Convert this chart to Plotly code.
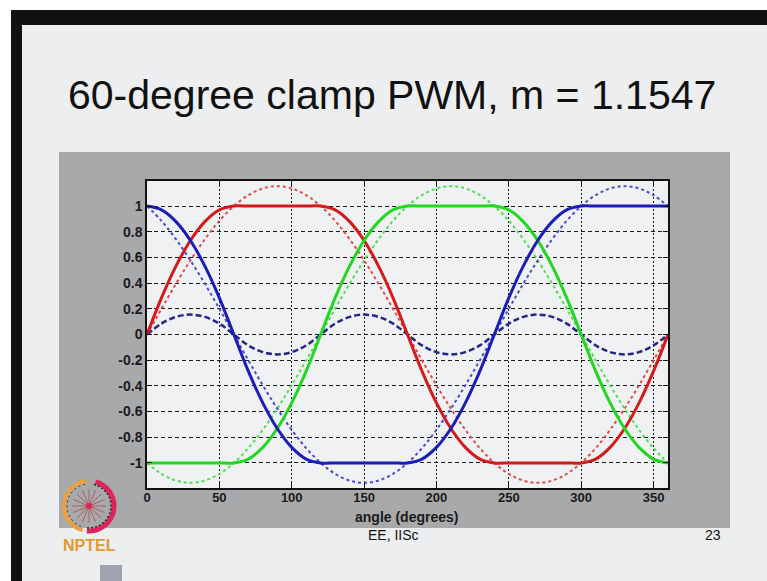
import math
import plotly.graph_objects as go

# ---------------- data ----------------
angle = [0, 10, 20, 30, 40, 50, 60, 70, 80, 90, 100, 110, 120, 130, 140, 150, 160, 170, 180,
         190, 200, 210, 220, 230, 240, 250, 260, 270, 280, 290, 300, 310, 320, 330, 340, 350, 360]

ref_a = [0, 0.200, 0.395, 0.577, 0.742, 0.885, 1.000, 1.085, 1.137, 1.155, 1.137, 1.085, 1.000,
         0.885, 0.742, 0.577, 0.395, 0.200, 0, -0.200, -0.395, -0.577, -0.742, -0.885, -1.000,
         -1.085, -1.137, -1.155, -1.137, -1.085, -1.000, -0.885, -0.742, -0.577, -0.395, -0.200, 0]
ref_b = [-1.000, -1.085, -1.137, -1.155, -1.137, -1.085, -1.000, -0.885, -0.742, -0.577, -0.395,
         -0.200, 0, 0.200, 0.395, 0.577, 0.742, 0.885, 1.000, 1.085, 1.137, 1.155, 1.137, 1.085,
         1.000, 0.885, 0.742, 0.577, 0.395, 0.200, 0, -0.200, -0.395, -0.577, -0.742, -0.885, -1.000]
ref_c = [1.000, 0.885, 0.742, 0.577, 0.395, 0.200, 0, -0.200, -0.395, -0.577, -0.742, -0.885,
         -1.000, -1.085, -1.137, -1.155, -1.137, -1.085, -1.000, -0.885, -0.742, -0.577, -0.395,
         -0.200, 0, 0.200, 0.395, 0.577, 0.742, 0.885, 1.000, 1.085, 1.137, 1.155, 1.137, 1.085, 1.000]
offset = [0, 0.085, 0.137, 0.155, 0.137, 0.085, 0, -0.085, -0.137, -0.155, -0.137, -0.085, 0,
          0.085, 0.137, 0.155, 0.137, 0.085, 0, -0.085, -0.137, -0.155, -0.137, -0.085, 0,
          0.085, 0.137, 0.155, 0.137, 0.085, 0, -0.085, -0.137, -0.155, -0.137, -0.085, 0]
mod_a = [0, 0.285, 0.532, 0.732, 0.879, 0.970, 1, 1, 1, 1, 1, 1, 1, 0.970, 0.879, 0.732, 0.532,
         0.285, 0, -0.285, -0.532, -0.732, -0.879, -0.970, -1, -1, -1, -1, -1, -1, -1, -0.970,
         -0.879, -0.732, -0.532, -0.285, 0]
mod_b = [-1, -1, -1, -1, -1, -1, -1, -0.970, -0.879, -0.732, -0.532, -0.285, 0, 0.285, 0.532,
         0.732, 0.879, 0.970, 1, 1, 1, 1, 1, 1, 1, 0.970, 0.879, 0.732, 0.532, 0.285, 0, -0.285,
         -0.532, -0.732, -0.879, -0.970, -1]
mod_c = [1, 0.970, 0.879, 0.732, 0.532, 0.285, 0, -0.285, -0.532, -0.732, -0.879, -0.970, -1, -1,
         -1, -1, -1, -1, -1, -0.970, -0.879, -0.732, -0.532, -0.285, 0, 0.285, 0.532, 0.732,
         0.879, 0.970, 1, 1, 1, 1, 1, 1, 1]

x_ticks = [0, 50, 100, 150, 200, 250, 300, 350]
y_ticks = [-1, -0.8, -0.6, -0.4, -0.2, 0, 0.2, 0.4, 0.6, 0.8, 1]
y_ticktext = ["-1", "-0.8", "-0.6", "-0.4", "-0.2", "0", "0.2", "0.4", "0.6", "0.8", "1"]

title_text = "60-degree clamp PWM, m = 1.1547"
xlabel_text = "angle (degrees)"
footer_mid = "EE, IISc"
footer_right = "23"
logo_text = "NPTEL"

# ---------------- layout geometry (pixels) ----------------
W, H = 767, 581
L, R, T, B = 147, 668, 181, 488


def px(x):
    return (x - L) / (R - L)


def py(y):
    return (B - y) / (B - T)


fig = go.Figure()

RED, GREEN, BLUE = "#d41a1a", "#22d622", "#1c1cb8"
RED_D, GREEN_D, BLUE_D = "#e44a4a", "#4ee04e", "#4a4ad0"

for ys, col in [(ref_a, RED_D), (ref_b, GREEN_D), (ref_c, BLUE_D)]:
    fig.add_trace(go.Scatter(x=angle, y=ys, mode="lines",
                             line=dict(color=col, width=2, dash="dot", shape="spline"),
                             hoverinfo="skip", showlegend=False))
fig.add_trace(go.Scatter(x=angle, y=offset, mode="lines",
                         line=dict(color="#25258a", width=2.5, dash="6px,3px", shape="spline"),
                         hoverinfo="skip", showlegend=False))
for ys, col in [(mod_a, RED), (mod_b, GREEN), (mod_c, BLUE)]:
    fig.add_trace(go.Scatter(x=angle, y=ys, mode="lines",
                             line=dict(color=col, width=3, shape="spline"),
                             hoverinfo="skip", showlegend=False))

shapes = []
# black video frame, slide, matlab figure panel, axes background
shapes.append(dict(type="rect", xref="paper", yref="paper", layer="below",
                   x0=px(11), x1=px(W + 5), y0=py(H + 5), y1=py(10),
                   fillcolor="#111111", line=dict(width=0)))
shapes.append(dict(type="rect", xref="paper", yref="paper", layer="below",
                   x0=px(22), x1=px(W + 5), y0=py(H + 5), y1=py(25),
                   fillcolor="#eceef0", line=dict(width=0)))
shapes.append(dict(type="rect", xref="paper", yref="paper", layer="below",
                   x0=px(59), x1=px(730), y0=py(528), y1=py(152),
                   fillcolor="#a8a9ab", line=dict(width=0)))
shapes.append(dict(type="rect", xref="paper", yref="paper", layer="below",
                   x0=0, x1=1, y0=0, y1=1,
                   fillcolor="#eff1f3", line=dict(width=0)))

# NPTEL logo (decoration)
cx, cy, rad = 89, 506, 25


def arc_path(a0, a1, r, n=30):
    pts = []
    for i in range(n + 1):
        a = math.radians(a0 + (a1 - a0) * i / n)
        pts.append((px(cx + r * math.cos(a)), py(cy - r * math.sin(a))))
    return "M " + " L ".join(f"{x:.5f},{y:.5f}" for x, y in pts)


shapes.append(dict(type="path", xref="paper", yref="paper", path=arc_path(95, 255, rad),
                   line=dict(color="#e8a040", width=4)))
shapes.append(dict(type="path", xref="paper", yref="paper", path=arc_path(-95, 75, rad),
                   line=dict(color="#e0245a", width=5)))
shapes.append(dict(type="path", xref="paper", yref="paper", path=arc_path(-95, 80, rad - 3),
                   line=dict(color="#222222", width=1.5, dash="2px,2px")))
shapes.append(dict(type="path", xref="paper", yref="paper", path=arc_path(100, 250, rad - 3),
                   line=dict(color="#333333", width=1, dash="2px,3px")))
for k in range(8):
    a = math.radians(k * 22.5)
    r2 = 17
    shapes.append(dict(type="line", xref="paper", yref="paper",
                       x0=px(cx - r2 * math.cos(a)), y0=py(cy + r2 * math.sin(a)),
                       x1=px(cx + r2 * math.cos(a)), y1=py(cy - r2 * math.sin(a)),
                       line=dict(color="#a86060", width=1)))
shapes.append(dict(type="circle", xref="paper", yref="paper",
                   x0=px(cx - 3), x1=px(cx + 3), y0=py(cy + 3), y1=py(cy - 3),
                   fillcolor="#e0245a", line=dict(width=0)))
# toolbar glyph box bottom-left
shapes.append(dict(type="rect", xref="paper", yref="paper",
                   x0=px(100), x1=px(122), y0=py(H + 5), y1=py(565),
                   fillcolor="#9ea3ad", line=dict(width=0)))

annotations = [
    dict(text=title_text, x=px(392), y=py(95), xref="paper", yref="paper",
         showarrow=False, xanchor="center", yanchor="middle",
         font=dict(family="Liberation Sans, Arial, sans-serif", size=41, color="#111111")),
    dict(text=xlabel_text, x=px(406), y=py(517), xref="paper", yref="paper",
         showarrow=False, xanchor="center", yanchor="middle",
         font=dict(family="Liberation Sans, Arial, sans-serif", size=14, color="#1a1a1a",
                   weight="bold")),
    dict(text=footer_mid, x=px(393), y=py(535), xref="paper", yref="paper",
         showarrow=False, xanchor="center", yanchor="middle",
         font=dict(family="Liberation Sans, Arial, sans-serif", size=14, color="#111111")),
    dict(text=footer_right, x=px(713), y=py(535), xref="paper", yref="paper",
         showarrow=False, xanchor="center", yanchor="middle",
         font=dict(family="Liberation Sans, Arial, sans-serif", size=14, color="#111111")),
    dict(text=logo_text, x=px(89), y=py(545), xref="paper", yref="paper",
         showarrow=False, xanchor="center", yanchor="middle",
         font=dict(family="Liberation Sans, Arial, sans-serif", size=16, color="#e39a30",
                   weight="bold")),
]

xtickfont = dict(family="Liberation Sans, Arial, sans-serif", size=13, color="#1a1a1a",
                 weight="bold")
ytickfont = dict(family="Liberation Sans, Arial, sans-serif", size=14, color="#1a1a1a",
                 weight="bold")

fig.update_layout(
    width=W, height=H,
    margin=dict(l=L, r=W - R, t=T, b=H - B, pad=0),
    paper_bgcolor="#ffffff",
    plot_bgcolor="rgba(0,0,0,0)",
    shapes=shapes,
    annotations=annotations,
    showlegend=False,
    xaxis=dict(range=[0, 360], tickvals=x_ticks, ticktext=[str(v) for v in x_ticks],
               showgrid=True, gridcolor="#1a1a1a", gridwidth=1, griddash="2px,2px",
               zeroline=False, showline=True, linecolor="#111111", linewidth=1.5,
               mirror="ticks", ticks="inside", ticklen=5, tickcolor="#111111",
               tickfont=xtickfont, ticklabelstandoff=-3),
    yaxis=dict(range=[-1.195, 1.195], tickvals=y_ticks, ticktext=y_ticktext,
               showgrid=True, gridcolor="#1a1a1a", gridwidth=1, griddash="4px,3px",
               zeroline=False, showline=True, linecolor="#111111", linewidth=1.5,
               mirror="ticks", ticks="inside", ticklen=5, tickcolor="#111111",
               tickfont=ytickfont),
)

fig.write_html("out.html", config={"displayModeBar": False},
               post_script="document.body.style.margin='0px';document.body.style.overflow='hidden';")
